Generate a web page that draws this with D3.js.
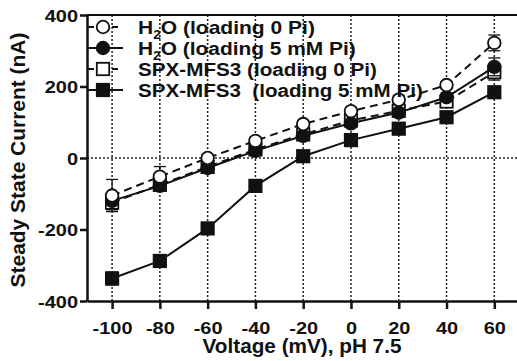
<!DOCTYPE html>
<html>
<head>
<meta charset="utf-8">
<script src="https://cdn.jsdelivr.net/npm/d3@7"></script>
<style>
  body { margin: 0; background: #fff; }
  text { font-family: "Liberation Sans", Arial, sans-serif; font-weight: bold; fill: #111; }
</style>
</head>
<body>
<div id="chart"></div>
<script>
// Data
const voltages = [-100, -80, -60, -40, -20, 0, 20, 40, 60];
const yTicks = [-400, -200, 0, 200, 400];

const h2o0 = [-105, -52, 0, 48, 95, 131, 163, 204, 322];
const h2o0Err = [45, 28, 10, 10, 10, 10, 12, 10, 22];
const h2o5 = [-120, -78, -28, 20, 62, 97, 127, 170, 255];
const h2o5Err = [22, 12, 10, 10, 10, 10, 10, 12, 25];
const spx0 = [-125, -75, -25, 24, 66, 105, 132, 158, 240];
const spx0Err = [20, 12, 10, 10, 10, 12, 10, 12, 22];
const spx5 = [-337, -288, -197, -78, 5, 50, 82, 114, 184];
const spx5Err = [18, 12, 10, 8, 8, 8, 8, 10, 10];

const seriesNames = ["H2O (loading 0 Pi)", "H2O (loading 5 mM Pi)", "SPX-MFS3 (loading 0 Pi)", "SPX-MFS3  (loading 5 mM Pi)"];

const series = [
  { name: seriesNames[0], values: h2o0, err: h2o0Err, shape: "circle", fill: "#fff", dash: "8,5" },
  { name: seriesNames[1], values: h2o5, err: h2o5Err, shape: "circle", fill: "#111", dash: null },
  { name: seriesNames[2], values: spx0, err: spx0Err, shape: "square", fill: "#fff", dash: "8,5" },
  { name: seriesNames[3], values: spx5, err: spx5Err, shape: "square", fill: "#111", dash: null }
];

const W = 517, H = 361;
const svg = d3.select("#chart").append("svg")
  .attr("width", W)
  .attr("height", H);

const x = d3.scaleLinear().domain([-110.5, 69.5]).range([87, 517]);
const y = d3.scaleLinear().domain([-400, 400]).range([301, 15]);

// stretch a text horizontally so it spans the given width
function fitWidth(t, width, base) {
  const w = t.node().getComputedTextLength();
  t.attr("transform", (base || "") + ` scale(${width / w},1)`);
}

// dotted grid
const grid = svg.append("g")
  .attr("stroke", "#222")
  .attr("stroke-width", 1.5)
  .attr("stroke-dasharray", "2,2");
grid.selectAll("line.v").data(voltages).join("line")
  .attr("class", "v")
  .attr("x1", d => x(d)).attr("x2", d => x(d))
  .attr("y1", y(400)).attr("y2", y(-400));
grid.append("line")
  .attr("x1", x.range()[0]).attr("x2", x.range()[1])
  .attr("y1", y(0)).attr("y2", y(0));

// top frame line
svg.append("line")
  .attr("x1", x.range()[0]).attr("x2", x.range()[1])
  .attr("y1", y(400)).attr("y2", y(400))
  .attr("stroke", "#111").attr("stroke-width", 2);

// axes
const xAxis = svg.append("g")
  .attr("transform", `translate(0,${y(-400)})`)
  .call(d3.axisBottom(x).tickValues(voltages).tickFormat(d => String(d))
    .tickSize(8).tickSizeOuter(0).tickPadding(13));
const yAxis = svg.append("g")
  .attr("transform", `translate(${x.range()[0]},0)`)
  .call(d3.axisLeft(y).tickValues(yTicks).tickFormat(d => String(d))
    .tickSize(7).tickSizeOuter(0).tickPadding(2));

[xAxis, yAxis].forEach(a => {
  a.select(".domain").attr("stroke", "#111").attr("stroke-width", 2.5);
  a.selectAll(".tick line").attr("stroke", "#111").attr("stroke-width", 2.5);
  a.selectAll("text").attr("font-size", 17).attr("fill", "#111");
});
// tick labels are wider than plain Arial bold: "-100" is about 40px in the figure
const probe = svg.append("text").attr("font-size", 17).text("-100");
const kTick = 40 / probe.node().getComputedTextLength();
probe.remove();
xAxis.selectAll("text").attr("transform", `scale(${kTick},1)`);
yAxis.selectAll("text").attr("x", -9 / kTick).attr("dy", "0.36em").attr("transform", `scale(${kTick},1)`);

// axis titles
const xTitle = svg.append("text")
  .attr("text-anchor", "middle")
  .attr("font-size", 20)
  .text("Voltage (mV), pH 7.5");
fitWidth(xTitle, 199, "translate(302,353)");
const yTitle = svg.append("text")
  .attr("text-anchor", "middle")
  .attr("font-size", 20)
  .text("Steady State Current (nA)");
fitWidth(yTitle, 255, "translate(25,160) rotate(-90)");

// marker helper
function marker(g, shape, fill, cx, cy) {
  if (shape === "circle") {
    g.append("circle").attr("cx", cx).attr("cy", cy).attr("r", 6.3)
      .attr("fill", fill).attr("stroke", "#111").attr("stroke-width", 1.8);
  } else {
    g.append("rect").attr("x", cx - 6.2).attr("y", cy - 6.2)
      .attr("width", 12.4).attr("height", 12.4)
      .attr("fill", fill).attr("stroke", "#111").attr("stroke-width", 1.8);
  }
}

const line = d3.line().x((d, i) => x(voltages[i])).y(d => y(d));

// draw series (back to front)
series.slice().reverse().forEach(s => {
  const g = svg.append("g");
  // error bars
  s.values.forEach((v, i) => {
    const cx = x(voltages[i]);
    const e = s.err[i];
    g.append("line").attr("x1", cx).attr("x2", cx)
      .attr("y1", y(v + e)).attr("y2", y(v - e))
      .attr("stroke", "#111").attr("stroke-width", 1.3);
    [v + e, v - e].forEach(t => {
      g.append("line").attr("x1", cx - 6).attr("x2", cx + 6)
        .attr("y1", y(t)).attr("y2", y(t))
        .attr("stroke", "#111").attr("stroke-width", 1.3);
    });
  });
  g.append("path").datum(s.values)
    .attr("d", line)
    .attr("fill", "none")
    .attr("stroke", "#111")
    .attr("stroke-width", 2)
    .attr("stroke-dasharray", s.dash);
  s.values.forEach((v, i) => marker(g, s.shape, s.fill, x(voltages[i]), y(v)));
});

// legend
const legendY = [27, 48, 69, 90];
const legendW = [177, 218, 239, 285];
const legend = svg.append("g");
series.forEach((s, i) => {
  const ly = legendY[i];
  legend.append("line")
    .attr("x1", 88).attr("x2", 123)
    .attr("y1", ly).attr("y2", ly)
    .attr("stroke", "#111").attr("stroke-width", 2)
    .attr("stroke-dasharray", s.dash ? "6,6" : null);
  marker(legend, s.shape, s.fill, 103, ly);
  const t = legend.append("text")
    .attr("font-size", 18.5)
    .style("white-space", "pre");
  if (s.name.startsWith("H2O")) {
    t.append("tspan").text("H");
    t.append("tspan").attr("font-size", 12).attr("dy", 5).text("2");
    t.append("tspan").attr("dy", -5).text(s.name.slice(2));
  } else {
    t.text(s.name);
  }
  fitWidth(t, legendW[i], `translate(138,${ly + 7})`);
});
</script>
</body>
</html>
